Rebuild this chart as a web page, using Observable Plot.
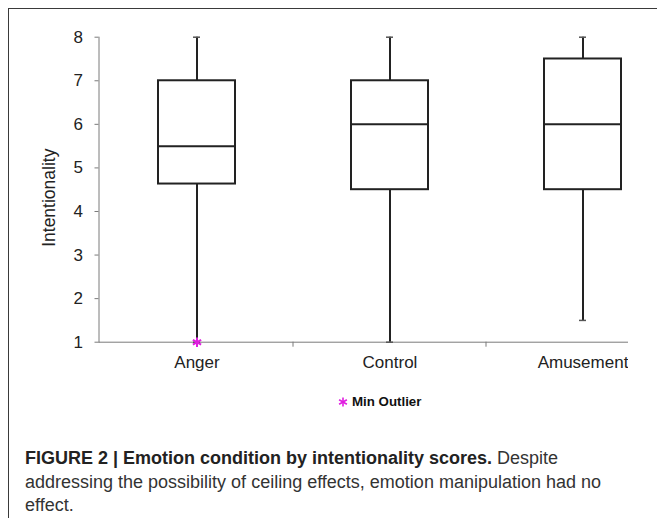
<!DOCTYPE html>
<html>
<head>
<meta charset="utf-8">
<script src="https://cdn.jsdelivr.net/npm/d3@7"></script>
<script src="https://cdn.jsdelivr.net/npm/@observablehq/plot@0.6"></script>
<style>
  html, body { margin: 0; padding: 0; background: #fff; overflow: hidden; width: 657px; height: 527px; }
  #frame { position: absolute; left: 8px; top: 8px; width: 700px; height: 509px;
           border-left: 1.5px solid #3a3a3a; border-top: 1.5px solid #3a3a3a; }
  #chart { position: absolute; left: 0; top: 0; width: 657px; height: 380px; }
  #chart svg { max-width: none !important; }
  #legend { position: absolute; left: 337px; top: 394px; font-family: "Liberation Sans", Arial, sans-serif;
            font-size: 13.3px; font-weight: bold; color: #111; display: flex; align-items: center; gap: 3px; }
  #caption { position: absolute; left: 25px; top: 447px; font-family: "Liberation Sans", Arial, sans-serif;
             font-size: 18px; line-height: 23.5px; color: #333; white-space: nowrap; }
  #caption b { color: #222; }
</style>
</head>
<body>
<div id="frame"></div>
<div id="chart"></div>
<div id="legend"></div>
<div id="caption"></div>
<script>
const categories = ["Anger", "Control", "Amusement"];
const maxVals    = [8, 8, 8];
const q3Vals     = [7, 7, 7.5];
const medians    = [5.5, 6, 6];
const q1Vals     = [4.63, 4.5, 4.5];
const minVals    = [1, 1, 1.5];
const outliers   = [{cat: "Anger", value: 1}];
const yTicks     = [1, 2, 3, 4, 5, 6, 7, 8];
const yLabel     = "Intentionality";
const legendText = "Min Outlier";
const captionBold = "FIGURE 2 | Emotion condition by intentionality scores.";
const captionText = ["Despite", "addressing the possibility of ceiling effects, emotion manipulation had no", "effect."];

const data = categories.map((c, i) => ({
  cat: c, max: maxVals[i], q3: q3Vals[i], med: medians[i], q1: q1Vals[i], min: minVals[i]
}));

const font = "Liberation Sans, Arial, sans-serif";
const magenta = "#e01ee0";

// boundary ticks between category bands, drawn through the x band scale
const bandTicks = (index, scales, values, dims) => {
  const g = document.createElementNS("http://www.w3.org/2000/svg", "g");
  const y0 = scales.y(1);
  for (const c of categories.slice(1)) {
    const xx = scales.x(c);
    const l = document.createElementNS("http://www.w3.org/2000/svg", "line");
    l.setAttribute("x1", xx); l.setAttribute("x2", xx);
    l.setAttribute("y1", y0); l.setAttribute("y2", y0 + 5);
    l.setAttribute("stroke", "#7a7a7a");
    g.appendChild(l);
  }
  return g;
};

const chart = Plot.plot({
  width: 628,
  height: 380,
  marginLeft: 98.5,
  marginRight: 0,
  marginTop: 36.7,
  marginBottom: 38.3,
  style: {fontFamily: font, fontSize: "17px", color: "#222", background: "transparent"},
  x: {type: "band", domain: categories, range: [98.5, 680], padding: 0},
  y: {domain: [1, 8]},
  marks: [
    Plot.frame({anchor: "left", stroke: "#7a7a7a"}),
    Plot.frame({anchor: "bottom", stroke: "#7a7a7a"}),
    bandTicks,
    Plot.axisY({ticks: yTicks, tickFormat: d3.format("d"), tickSize: 4, tickPadding: 12,
                stroke: "#7a7a7a", fill: "#222", label: null, fontSize: 17}),
    Plot.text([yLabel], {frameAnchor: "left", textAnchor: "middle", rotate: -90, dx: -50, dy: 8,
                         fontSize: 17.5, fill: "#222"}),
    Plot.axisX({tickSize: 0, tickPadding: 14, fill: "#222", label: null, fontSize: 17}),
    Plot.ruleX(data, {x: "cat", y1: "q3", y2: "max", stroke: "#222", strokeWidth: 2}),
    Plot.ruleX(data, {x: "cat", y1: "min", y2: "q1", stroke: "#222", strokeWidth: 2}),
    Plot.tickY(data, {x: "cat", y: "max", stroke: "#555", strokeWidth: 1.5, insetLeft: 93, insetRight: 93}),
    Plot.tickY(data, {x: "cat", y: "min", stroke: "#555", strokeWidth: 1.5, insetLeft: 93, insetRight: 93}),
    Plot.barY(data, {x: "cat", y1: "q1", y2: "q3", fill: "white", stroke: "#222", strokeWidth: 2,
                     insetLeft: 58, insetRight: 58}),
    Plot.tickY(data, {x: "cat", y: "med", stroke: "#222", strokeWidth: 2, insetLeft: 58, insetRight: 58}),
    Plot.dot(outliers, {x: "cat", y: "value", symbol: "asterisk", stroke: magenta, strokeWidth: 2, r: 4.5})
  ]
});
chart.style.position = "absolute";
chart.style.left = "0px";
chart.style.top = "0px";
chart.style.width = "628px";
chart.style.height = "380px";
chart.style.overflow = "hidden";
document.getElementById("chart").appendChild(chart);

// legend
const legend = document.getElementById("legend");
const ls = document.createElementNS("http://www.w3.org/2000/svg", "svg");
ls.setAttribute("width", 12); ls.setAttribute("height", 12);
ls.innerHTML = `<g transform="translate(6,6)" stroke="${magenta}" stroke-width="1.6">
  <line x1="0" y1="-4.5" x2="0" y2="4.5"/><line x1="-3.9" y1="-2.25" x2="3.9" y2="2.25"/><line x1="-3.9" y1="2.25" x2="3.9" y2="-2.25"/></g>`;
legend.appendChild(ls);
const lt = document.createElement("span");
lt.textContent = legendText;
legend.appendChild(lt);

// caption
const cap = document.getElementById("caption");
const b = document.createElement("b");
b.textContent = captionBold;
cap.appendChild(b);
cap.appendChild(document.createTextNode(" " + captionText[0]));
for (const line of captionText.slice(1)) {
  cap.appendChild(document.createElement("br"));
  cap.appendChild(document.createTextNode(line));
}
</script>
</body>
</html>
